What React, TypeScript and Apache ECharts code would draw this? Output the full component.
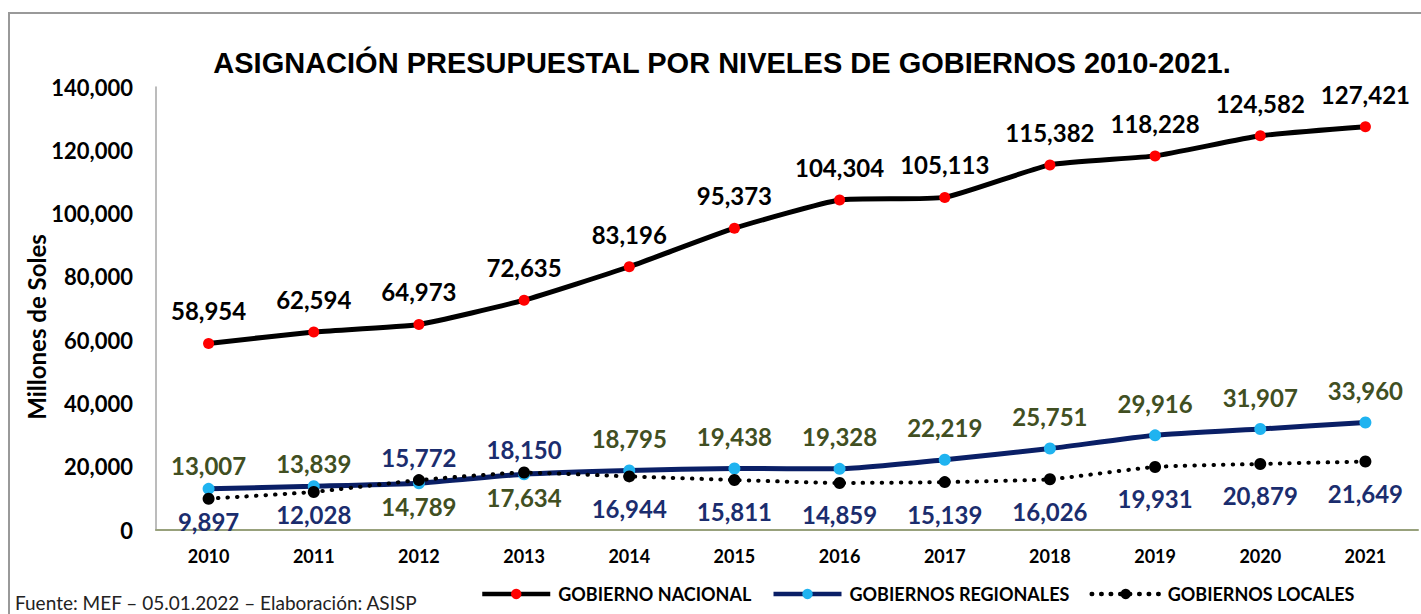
import React, { useEffect, useRef } from "react";
import * as echarts from "echarts";

const years = ["2010", "2011", "2012", "2013", "2014", "2015", "2016", "2017", "2018", "2019", "2020", "2021"];
const nacional = [58954, 62594, 64973, 72635, 83196, 95373, 104304, 105113, 115382, 118228, 124582, 127421];
const regionales = [13007, 13839, 14789, 17634, 18795, 19438, 19328, 22219, 25751, 29916, 31907, 33960];
const locales = [9897, 12028, 15772, 18150, 16944, 15811, 14859, 15139, 16026, 19931, 20879, 21649];

const TITLE = "ASIGNACIÓN PRESUPUESTAL POR NIVELES DE GOBIERNOS 2010-2021.";
const Y_NAME = "Millones de Soles";
const FOOTER = "Fuente: MEF – 05.01.2022 – Elaboración: ASISP";
const NAMES = ["GOBIERNO NACIONAL", "GOBIERNOS REGIONALES", "GOBIERNOS LOCALES"];

const FONT = "Lato";
const fmt = (v: number) => v.toLocaleString("en-US");

export default function App() {
  const ref = useRef<HTMLDivElement>(null);
  useEffect(() => {
    if (!ref.current) return;
    const chart = echarts.init(ref.current, undefined, { renderer: "svg" });

    const pairData = (own: number[], other: number[], color: string) =>
      own.map((v, i) => {
        const above = v >= other[i];
        return {
          value: v,
          label: {
            show: true,
            position: above ? "top" : "bottom",
            distance: i < 4 ? 5 : 14,
            color,
            fontFamily: FONT,
            fontWeight: "bold",
            fontSize: 24,
            formatter: (p: any) => fmt(p.value),
          },
        };
      });

    chart.setOption({
      animation: false,
      backgroundColor: "#ffffff",
      title: {
        text: TITLE,
        left: 717,
        top: 43,
        textAlign: "center",
        textStyle: { fontFamily: "Liberation Sans", fontWeight: "bold", fontSize: 29, color: "#000" },
      },
      grid: { left: 156, right: 3, top: 87, bottom: 84, containLabel: false, outerBoundsMode: "none" },
      legend: {
        left: 475,
        top: 580,
        itemWidth: 68,
        itemHeight: 13,
        itemGap: 20,
        lineStyle: { width: 4.5 },
        textStyle: { fontFamily: FONT, fontWeight: "bold", fontSize: 18, color: "#000", padding: [0, 0, 0, 3] },
        data: NAMES,
      },
      xAxis: {
        type: "category",
        data: years,
        boundaryGap: true,
        axisLine: { lineStyle: { color: "#98a17c", width: 2 } },
        axisTick: { show: false },
        axisLabel: { margin: 17, fontFamily: FONT, fontWeight: "bold", fontSize: 18, color: "#000" },
      },
      yAxis: {
        type: "value",
        min: 0,
        max: 140000,
        interval: 20000,
        axisLine: { show: true, lineStyle: { color: "#a6a6a6", width: 1.5 } },
        axisTick: { show: false },
        splitLine: { show: false },
        axisLabel: { margin: 23, fontFamily: FONT, fontWeight: "bold", fontSize: 22, color: "#000", formatter: (v: number) => fmt(v) },
      },
      graphic: [
        {
          type: "polyline",
          shape: { points: [[9, 614], [9, 13], [1421, 13]] },
          style: { stroke: "#999999", lineWidth: 2, fill: "none" },
          silent: true,
        },
        {
          type: "text",
          x: 36,
          y: 327,
          rotation: Math.PI / 2,
          style: {
            text: Y_NAME,
            fontFamily: FONT,
            fontWeight: "bold",
            fontSize: 24,
            fill: "#000",
            align: "center",
            verticalAlign: "middle",
          },
        },
        {
          type: "text",
          x: 15,
          y: 602,
          style: {
            text: FOOTER,
            fontFamily: FONT,
            fontSize: 19,
            fill: "#222",
            align: "left",
            verticalAlign: "middle",
          },
        },
      ],
      series: [
        {
          name: NAMES[0],
          type: "line",
          data: nacional,
          smooth: 0.15,
          symbol: "circle",
          symbolSize: 11,
          lineStyle: { color: "#000", width: 5 },
          itemStyle: { color: "#ff0000", borderWidth: 0 },
          label: {
            show: true,
            position: "top",
            distance: 15,
            color: "#000",
            fontFamily: FONT,
            fontWeight: "bold",
            fontSize: 24,
            formatter: (p: any) => fmt(p.value),
          },
        },
        {
          name: NAMES[1],
          type: "line",
          data: pairData(regionales, locales, "#414f22"),
          smooth: 0.15,
          symbol: "circle",
          symbolSize: 12,
          lineStyle: { color: "#0a1f66", width: 5 },
          itemStyle: { color: "#1fb3f0", borderWidth: 0 },
        },
        {
          name: NAMES[2],
          type: "line",
          data: pairData(locales, regionales, "#1b2d6e"),
          smooth: 0.15,
          symbol: "circle",
          symbolSize: 12,
          lineStyle: { color: "#000", width: 4, type: [0.5, 9], cap: "round" },
          itemStyle: { color: "#000", borderWidth: 0 },
        },
      ],
    });
    return () => chart.dispose();
  }, []);
  return <div ref={ref} style={{ position: "absolute", left: 0, top: 0, width: 1421, height: 614 }} />;
}
